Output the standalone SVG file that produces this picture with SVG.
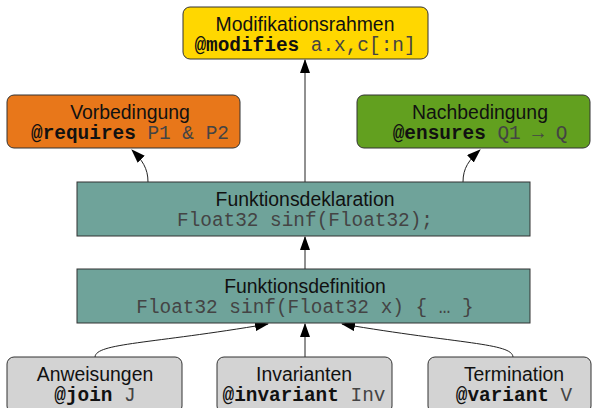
<svg xmlns="http://www.w3.org/2000/svg" width="598" height="408" viewBox="0 0 598 408">
<style>
.box{stroke:#333;stroke-width:1}
.t{font-family:"Liberation Sans",Arial,sans-serif;font-size:19.4px;fill:#111;text-anchor:middle}
.c{font-family:"Liberation Mono","Courier New",monospace;font-size:19.4px;fill:#444;text-anchor:middle}
.k{font-weight:bold;fill:#111}
.e{fill:none;stroke:#222;stroke-width:1}
</style>
<defs>
<marker id="ah" markerWidth="14" markerHeight="10" refX="13" refY="5" orient="auto" markerUnits="userSpaceOnUse">
<path d="M0,0 L14,5 L0,10 z" fill="#000"/>
</marker>
</defs>
<rect width="598" height="408" fill="#fff"/>
<g id="connectors">
<path class="e" d="M305,182 L305,60" marker-end="url(#ah)"/>
<path class="e" d="M305,269 L305,237" marker-end="url(#ah)"/>
<path class="e" d="M148,182 C148,168 142,160 132,150" marker-end="url(#ah)"/>
<path class="e" d="M463,182 C463,168 469,160 480,150" marker-end="url(#ah)"/>
<path class="e" d="M95,357 C96,343 150,344 268,324" marker-end="url(#ah)"/>
<path class="e" d="M305,357 L305,324" marker-end="url(#ah)"/>
<path class="e" d="M513,357 C512,343 460,344 342,324" marker-end="url(#ah)"/>
</g>
<g id="modifikationsrahmen">
<rect class="box" x="183" y="7" width="245" height="52" rx="7" fill="#FFD700"/>
<text class="t" x="305" y="31">Modifikationsrahmen</text>
<text class="c" x="305" y="51"><tspan class="k">@modifies</tspan> a.x,c[:n]</text>
</g>
<g id="vorbedingung">
<rect class="box" x="7" y="95" width="233" height="53" rx="7" fill="#E8771A"/>
<text class="t" x="130" y="119">Vorbedingung</text>
<text class="c" x="130" y="139"><tspan class="k">@requires</tspan> P1 &amp; P2</text>
</g>
<g id="nachbedingung">
<rect class="box" x="357" y="95" width="233" height="53" rx="7" fill="#62A01F"/>
<text class="t" x="480" y="119">Nachbedingung</text>
<text class="c" x="480" y="139"><tspan class="k">@ensures</tspan> Q1 → Q</text>
</g>
<g id="funktionsdeklaration">
<rect class="box" x="77" y="182" width="453" height="54" fill="#6FA39A" stroke-width="1.5"/>
<text class="t" x="305" y="206">Funktionsdeklaration</text>
<text class="c" x="305" y="226">Float32 sinf(Float32);</text>
</g>
<g id="funktionsdefinition">
<rect class="box" x="77" y="269" width="453" height="54" fill="#6FA39A" stroke-width="1.5"/>
<text class="t" x="305" y="293">Funktionsdefinition</text>
<text class="c" x="305" y="313">Float32 sinf(Float32 x) { … }</text>
</g>
<g id="anweisungen">
<rect class="box" x="7" y="357" width="175" height="56" rx="7" fill="#D3D3D3"/>
<text class="t" x="95" y="381">Anweisungen</text>
<text class="c" x="95" y="401"><tspan class="k">@join</tspan> J</text>
</g>
<g id="invarianten">
<rect class="box" x="217" y="357" width="175" height="56" rx="7" fill="#D3D3D3"/>
<text class="t" x="304" y="381">Invarianten</text>
<text class="c" x="304" y="401"><tspan class="k">@invariant</tspan> Inv</text>
</g>
<g id="termination">
<rect class="box" x="428" y="357" width="163" height="56" rx="7" fill="#D3D3D3"/>
<text class="t" x="514" y="381">Termination</text>
<text class="c" x="514" y="401"><tspan class="k">@variant</tspan> V</text>
</g>
</svg>
